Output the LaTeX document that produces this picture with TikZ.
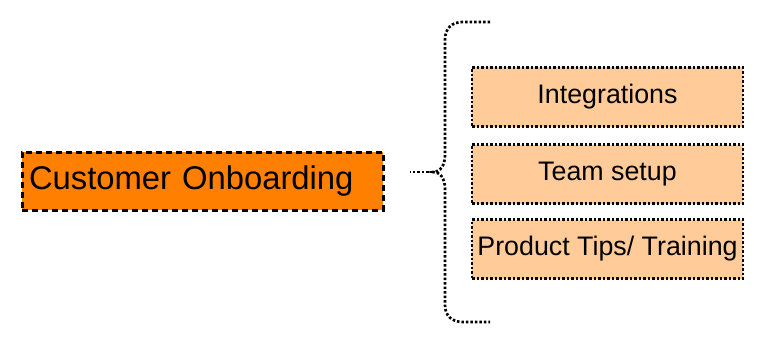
\documentclass[tikz,border=0pt]{standalone}
\usepackage{fontspec}
\setmainfont{Liberation Sans}
\begin{document}
\begin{tikzpicture}[x=1pt,y=-1pt,
    mainbox/.style={fill=myorange, draw=black, line width=3pt, dash pattern=on 6pt off 4pt,
        minimum height=58pt, text width=347pt, inner xsep=7pt, align=left,
        font=\fontsize{32.8pt}{36pt}\selectfont},
    subbox/.style={fill=mypeach, draw=black, line width=2.7pt, dash pattern=on 2.5pt off 2pt,
        minimum width=271pt, minimum height=59pt, inner sep=0pt,
        font=\fontsize{26.8pt}{30pt}\selectfont},
    bracepath/.style={draw=black, line width=2.7pt, dash pattern=on 2.5pt off 2pt}]
    \definecolor{myorange}{RGB}{255,128,0}
    \definecolor{mypeach}{RGB}{255,204,153}

    \useasboundingbox (0,0) rectangle (769,345);

    \node[mainbox] (onboard) at (202.5,181) {\raisebox{2.5pt}{Customer Onboarding}};

    \node[subbox] (integ) at (607.5,97) {Integrations};
    \node[subbox] (teamset) at (607.5,174) {Team setup};
    \node[subbox] (tips) at (607.5,249) {Product Tips/ Training};

    \coordinate (bracetip) at (433,172);
    \draw[bracepath] (490,22) -- (463,22) .. controls (452,22) and (445,28) .. (445,40)
        -- (445,155) .. controls (445,166) and (440,172) .. (bracetip)
        .. controls (440,172) and (445,178) .. (445,189)
        -- (445,305) .. controls (445,316) and (452,322) .. (463,322) -- (490,322);
    \draw[bracepath] (bracetip) -- ++(-23,0);
\end{tikzpicture}
\end{document}
